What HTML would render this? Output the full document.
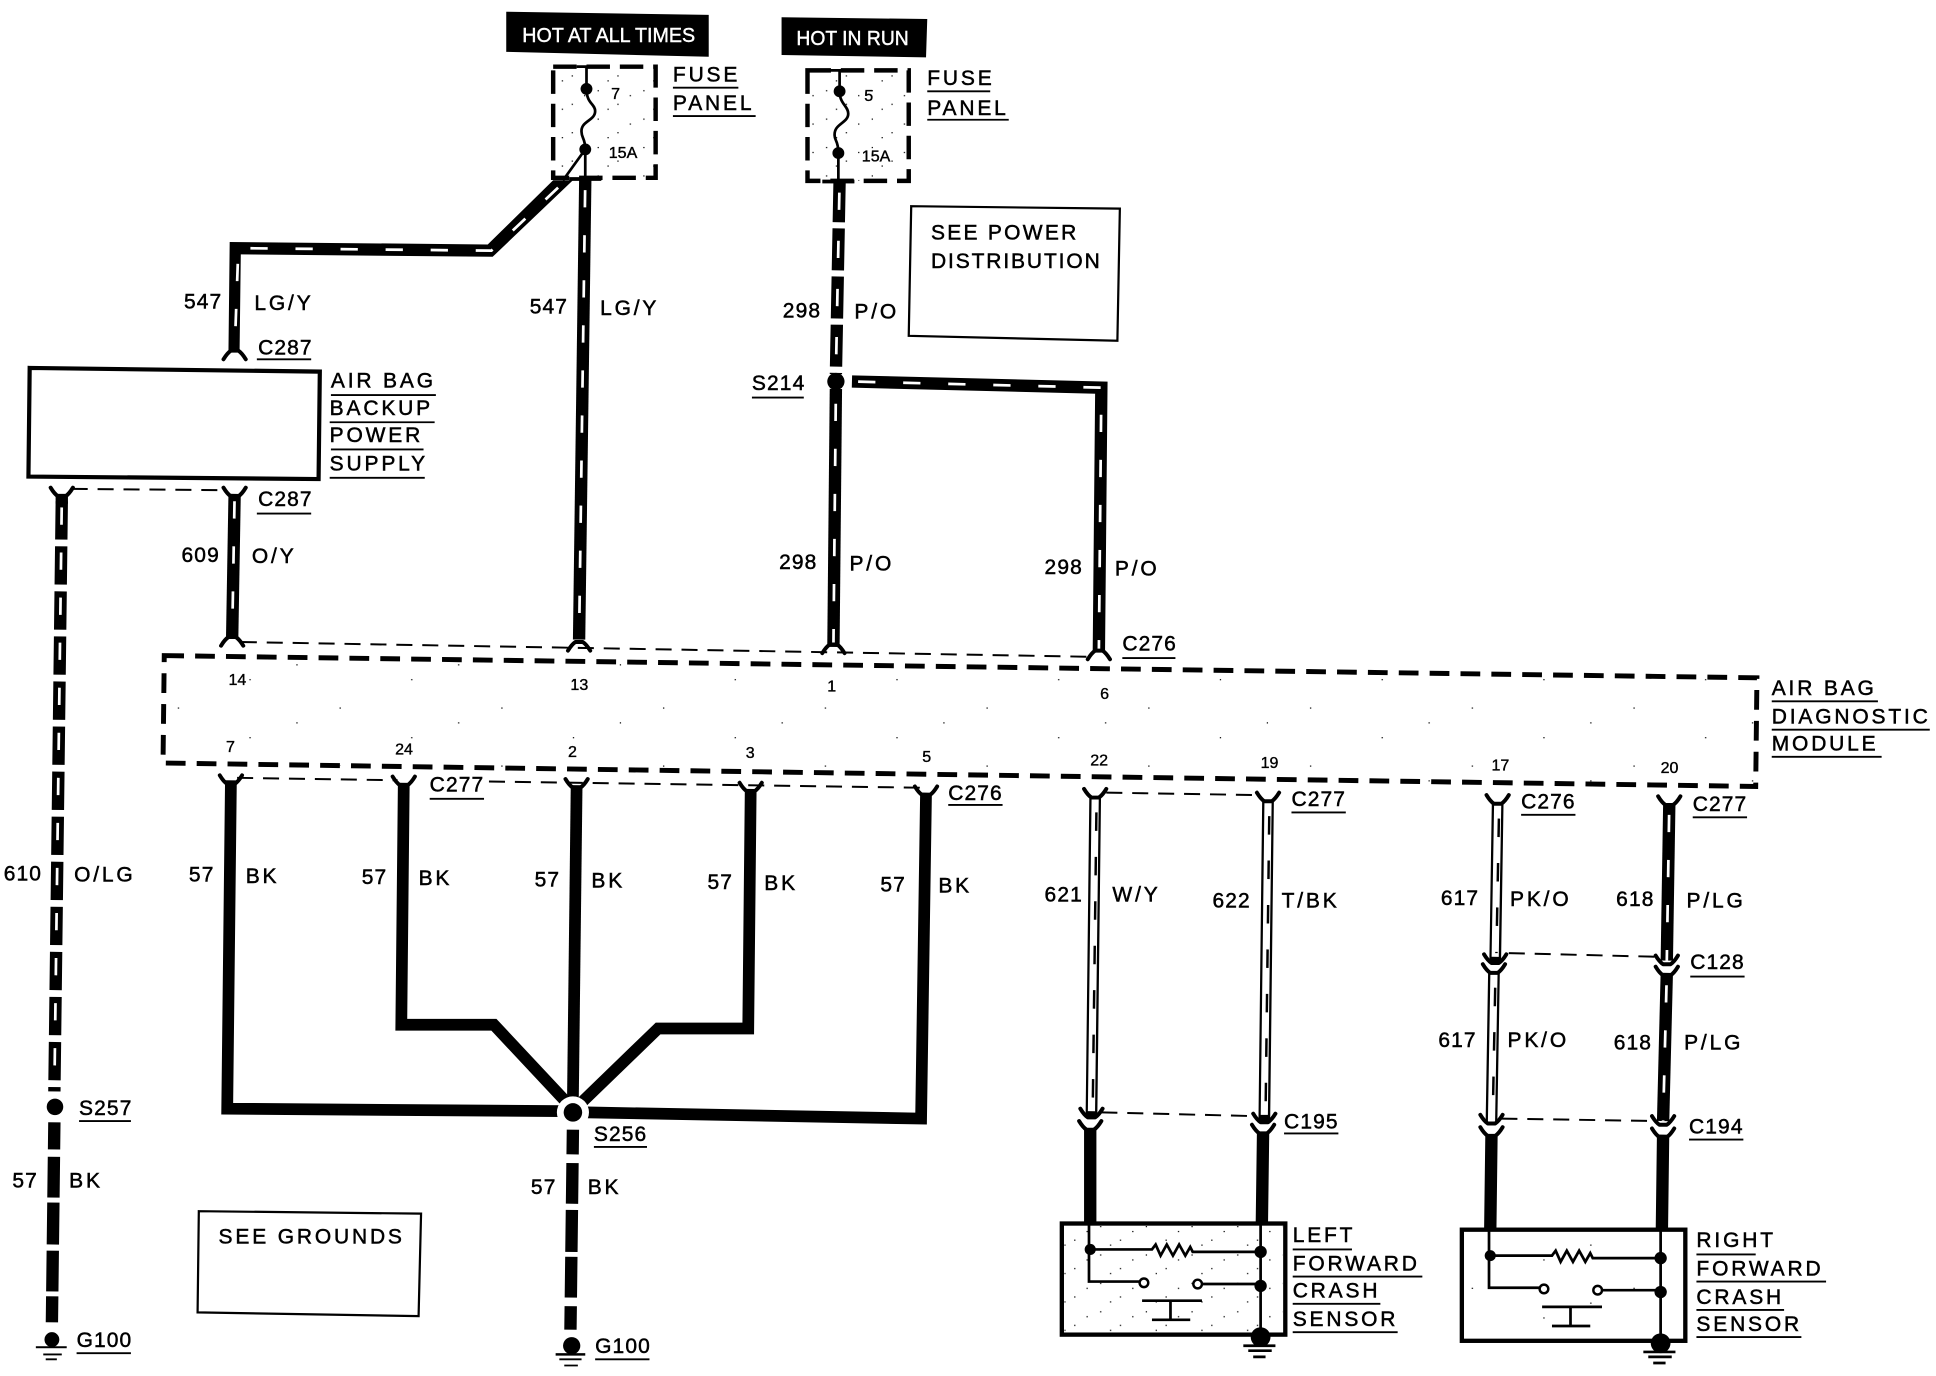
<!DOCTYPE html>
<html><head><meta charset="utf-8"><style>
html,body{margin:0;padding:0;background:#fff}
svg{display:block}
text{font-family:"Liberation Sans",sans-serif;font-size:17px;letter-spacing:.9px;fill:#000;stroke:#000;stroke-width:.4}
.l{letter-spacing:2.3px}
.s{font-size:13px;letter-spacing:0;stroke-width:.3}
.h{font-size:16.8px;fill:#fff;stroke:#fff;stroke-width:.35;letter-spacing:0}
.w{fill:none;stroke:#000;stroke-width:10;stroke-linejoin:miter}
.t{fill:none;stroke:#fff;stroke-width:2.2;stroke-dasharray:14 22.5}
.b{fill:none;stroke:#000;stroke-width:9.5;stroke-linejoin:miter}
.d{fill:none;stroke:#000;stroke-width:1.6;stroke-dasharray:13 8}
.u{stroke:#000;stroke-width:1.5;fill:none}
.f{fill:none;stroke:#000;stroke-width:3.2;stroke-linecap:round;stroke-linejoin:round}
.o{fill:none;stroke:#000;stroke-width:9.5}
.i{fill:none;stroke:#fff;stroke-width:5.8}
.z{fill:none;stroke:#000;stroke-width:2;stroke-dasharray:15 21}
.n{fill:none;stroke:#000;stroke-width:2.2}
</style></head><body>
<svg xmlns="http://www.w3.org/2000/svg" width="1936" height="1376" viewBox="0 0 1568 1114.5">
<defs>
<path id="up" class="f" d="M-9,-7 Q-6,-2 -3,0 H3 Q6,-2 9,-7"/>
<path id="dn" class="f" d="M-9,7 Q-6,2 -3,0 H3 Q6,2 9,7"/>
<pattern id="sd" width="37" height="23" patternUnits="userSpaceOnUse">
<rect x="3" y="4" width="1" height="1"/><rect x="19" y="15" width="1" height="1"/><rect x="29" y="8" width="1" height="1"/><rect x="11" y="19" width="1" height="1"/>
</pattern>
<pattern id="sp" width="131" height="47" patternUnits="userSpaceOnUse">
<rect x="13" y="9" width="1" height="1"/><rect x="71" y="33" width="1" height="1"/><rect x="109" y="21" width="1" height="1"/>
</pattern>
<g id="sensor">
<rect x="860" y="991" width="181" height="90" fill="none" stroke="#000" stroke-width="3.5"/>
<path class="n" d="M882,991 V1038 H923 M974,1040 H1021 M1021,991 V1083 M882,1012 H933 L936,1008 L940,1017 L945,1008 L950,1017 L955,1008 L960,1017 L964,1010 L966,1014 H1021"/>
<circle cx="926.5" cy="1039" r="3.5" fill="#fff" stroke="#000" stroke-width="2"/>
<circle cx="970" cy="1040" r="3.5" fill="#fff" stroke="#000" stroke-width="2"/>
<circle cx="883" cy="1012" r="4.5"/><circle cx="1021" cy="1014" r="5"/><circle cx="1021" cy="1041.5" r="5"/><circle cx="1021" cy="1083" r="8"/>
<path class="n" d="M925,1053.5 H973.5 M948,1053.5 V1069 M933,1069 H964"/>
<path d="M1007,1090 H1033 M1011,1094 H1030 M1015,1099 H1025" stroke="#000" stroke-width="2.2"/>
</g>
</defs>

<rect x="0" y="0" width="1568" height="1114.5" fill="#fff"/>
<path d="M410,9.5 L574,12 L574,46 L410,42 Z M633,14 L751,15.4 L750,46.5 L633,44.5 Z"/>
<text class="h" x="423" y="34" textLength="140" lengthAdjust="spacingAndGlyphs">HOT AT ALL TIMES</text>
<text class="h" x="645" y="36.5" textLength="91" lengthAdjust="spacingAndGlyphs">HOT IN RUN</text>

<!-- fuses -->
<path d="M448,54 H531 V144 H448 Z M654,57 H736 V146.5 H654 Z" fill="url(#sd)" stroke="#000" stroke-width="3.6" stroke-dasharray="19 8"/>
<path class="n" d="M475,54 V72 C475,84 482,84 482,90 C482,98 470,98 471,107 C471,112 474,112 474,121 V145 M467,54 H486 M680,57 V74 C680,84 687,86 687,92 C687,100 675,100 676,110 C676,114 679,114 679,124 V147 M670,57 H692 M474,121 L456,146"/>
<circle cx="475" cy="72" r="4.8"/><circle cx="474" cy="121" r="4.8"/><circle cx="680" cy="74" r="4.8"/><circle cx="679" cy="124" r="4.8"/>
<text class="s" x="495" y="80">7</text><text class="s" x="493" y="128">15A</text>
<text class="s" x="700" y="82">5</text><text class="s" x="698" y="131">15A</text>
<path d="M461,145 H487 M666,147 H692" stroke="#000" stroke-width="3"/>

<!-- boxes -->
<path d="M738,167 L907,169 L905,276 L736,272 Z" fill="none" stroke="#000" stroke-width="1.8"/>
<path d="M161,981 L341,983 L339,1066 L160,1063 Z" fill="none" stroke="#000" stroke-width="1.8"/>
<path d="M24,298 L259,301 L258,388 L23,386 Z" fill="#fff" stroke="#000" stroke-width="3.4"/>
<path d="M133,531 L1423,549 L1422,637 L132,618 Z" fill="url(#sp)" stroke="#000" stroke-width="4" stroke-dasharray="16 9"/>

<!-- thick striped wires -->
<path d="M448,146 H464 L399,208 L195,206 L194,285 L185,285 L186,196 L395,198 Z"/>
<path class="t" d="M452,152 L398,203 L193,201 L190,285"/>
<path class="w" d="M474,146 L469,518"/><path class="t" style="stroke-dashoffset:-8" d="M474,146 L469,518"/>
<path class="w" d="M680,146 L677,303" style="stroke-dasharray:34 5"/><path class="t" style="stroke-dasharray:14 25;stroke-dashoffset:-10" d="M680,146 L677,303"/>
<path class="w" d="M677,315 L675,524"/><path class="t" style="stroke-dashoffset:-12" d="M677,315 L675,524"/>
<path class="w" d="M690,309 L892,314 L890,527"/><path class="t" style="stroke-dashoffset:-5" d="M690,309 L892,314 L890,527"/>
<path class="w" d="M190,400 L188,517"/><path class="t" style="stroke-dashoffset:-6" d="M190,400 L188,517"/>
<path class="w" style="stroke-dasharray:31 5.5" d="M50,406 L44,884"/><path class="w" d="M50,400 V408"/><path class="t" style="stroke-dashoffset:-5" d="M50,406 L44,884"/>
<path class="w" style="stroke-dasharray:22 6 33 4 34 5 33 4 21" d="M44,909 L42,1071"/>
<path class="w" style="stroke-dasharray:20 7 33 5 34 4 33 7 19" d="M464,915 L462,1077"/>
<path class="w" d="M1352,652 L1350,778"/><path class="t" style="stroke-dashoffset:-8" d="M1352,652 L1350,778"/>
<path class="w" d="M1350,788 L1347,908"/><path class="t" style="stroke-dashoffset:-10" d="M1350,788 L1347,908"/>

<!-- BK wires -->
<path class="b" d="M187,632 L184,898 L455,900"/>
<path class="b" d="M327,634 L325,830 L400,830 L458,892"/>
<path class="b" d="M467,636 L464,890"/>
<path class="b" d="M608,639 L606,833 L533,833 L472,892"/>
<path class="b" d="M750,642 L746,906 L475,901"/>
<circle cx="464" cy="901" r="13" fill="#fff"/><circle cx="464" cy="901" r="7.5"/>
<circle cx="677" cy="309" r="7"/><circle cx="44.5" cy="896.5" r="6.7"/>

<!-- outlined wires -->
<path class="o" d="M887,646 L884,905 M1027,649 L1024,908 M1213,651 L1211,780 M1210,788 L1208,909"/>
<path class="i" d="M887,647 L884,900 M1027,650 L1024,903 M1213,652 L1211,775 M1210,789 L1208,909"/>
<path class="z" d="M888,658 L885,900 M1028,661 L1025,903 M1214,663 L1212,772 M1211,800 L1209,906"/>

<!-- lower wires -->
<path class="w" d="M883,914 L883,992 M1023,917 L1022,992 M1208,919 L1207,997 M1347,919 L1346,997"/>

<!-- sensors -->
<rect x="862" y="993" width="177" height="86" fill="url(#sd)"/>
<rect x="1186" y="998" width="177" height="86" fill="url(#sp)"/>
<use href="#sensor"/>
<use href="#sensor" transform="translate(324,5)"/>

<!-- grounds -->
<circle cx="42" cy="1085" r="6"/><rect x="29" y="1090.4" width="25" height="1.6"/>
<path d="M35,1097 H50 M37,1101 H46" stroke="#000" stroke-width="1.5"/>
<circle cx="463" cy="1090" r="7"/><rect x="450" y="1096" width="24" height="2"/>
<path d="M453,1101 H471 M457,1106 H468" stroke="#000" stroke-width="1.5"/>

<!-- dashed connector lines -->
<path class="d" d="M58,396 L183,397 M195,520 L885,532 M192,630 L322,632 M396,633 L745,638 M896,642 L1020,644 M1222,772 L1344,775 M1216,906 L1342,908 M892,901 L1016,904"/>

<!-- connector forks -->
<use href="#dn" x="190" y="284"/><use href="#up" x="50" y="402"/><use href="#up" x="190" y="402"/>
<use href="#dn" x="188" y="516"/><use href="#dn" x="469" y="520"/><use href="#dn" x="675" y="522"/><use href="#dn" x="890" y="527"/>
<use href="#up" x="187" y="635"/><use href="#up" x="327" y="636"/><use href="#up" x="467" y="638"/><use href="#up" x="608" y="641"/><use href="#up" x="750" y="644"/>
<use href="#up" x="887" y="646"/><use href="#up" x="1027" y="649"/><use href="#up" x="1213" y="651"/><use href="#up" x="1352" y="652"/>
<use href="#up" x="1211" y="780"/><use href="#up" x="1350" y="781"/><use href="#up" x="1210" y="788"/><use href="#up" x="1350" y="790"/>
<use href="#up" x="884" y="905"/><use href="#up" x="1024" y="909"/><use href="#up" x="1208" y="910"/><use href="#up" x="1347" y="911"/>
<use href="#up" x="883" y="915"/><use href="#up" x="1023" y="918"/><use href="#up" x="1208" y="920"/><use href="#up" x="1347" y="921"/>

<!-- underlines -->
<path class="u" d="M545,71 H598 M545,94 H612 M751,74 H802 M751,97 H817 M609,322 H651 M208,291 H252 M268,320 H353 M267,342 H352 M268,364 H343 M267,387 H344 M208,416 H252 M909,533 H952 M1435,568 H1521 M1435,591 H1563 M1435,613 H1524 M348,647 H392 M768,652 H812 M1046,658 H1090 M1232,660 H1276 M1371,662 H1415 M1369,791 H1413 M64,908 H106 M481,929 H524 M1040,918 H1084 M1368,923 H1412 M62,1096 H106 M482,1101 H526 M1047,1012 H1095 M1047,1034 H1152 M1047,1056 H1118 M1047,1079 H1132 M1374,1016 H1422 M1374,1038 H1479 M1374,1061 H1445 M1374,1083 H1459"/>

<!-- labels -->
<text class="l" x="545" y="66">FUSE</text><text class="l" x="545" y="89">PANEL</text>
<text class="l" x="751" y="69">FUSE</text><text class="l" x="751" y="93">PANEL</text>
<text class="l" x="754" y="194" textLength="120">SEE POWER</text><text class="l" x="754" y="217" textLength="139">DISTRIBUTION</text>
<text x="609" y="316">S214</text>
<text x="149" y="250">547</text><text class="l" x="206" y="251">LG/Y</text>
<text x="209" y="287">C287</text>
<text x="429" y="254">547</text><text class="l" x="486" y="255">LG/Y</text>
<text x="634" y="257">298</text><text class="l" x="692" y="258">P/O</text>
<text class="l" x="268" y="314" textLength="85">AIR BAG</text><text class="l" x="267" y="336">BACKUP</text><text class="l" x="267" y="358">POWER</text><text class="l" x="267" y="381">SUPPLY</text>
<text x="209" y="410">C287</text>
<text x="147" y="455">609</text><text class="l" x="204" y="456">O/Y</text>
<text x="631" y="461">298</text><text class="l" x="688" y="462">P/O</text>
<text x="846" y="465">298</text><text class="l" x="903" y="466">P/O</text>
<text x="909" y="527">C276</text>
<text class="s" x="185" y="555">14</text><text class="s" x="462" y="559">13</text><text class="s" x="670" y="560">1</text><text class="s" x="891" y="566">6</text>
<text class="s" x="183" y="609">7</text><text class="s" x="320" y="611">24</text><text class="s" x="460" y="613">2</text><text class="s" x="604" y="614">3</text><text class="s" x="747" y="617">5</text><text class="s" x="883" y="620">22</text><text class="s" x="1021" y="622">19</text><text class="s" x="1208" y="624">17</text><text class="s" x="1345" y="626">20</text>
<text class="l" x="1435" y="563">AIR BAG</text><text class="l" x="1435" y="586">DIAGNOSTIC</text><text class="l" x="1435" y="608">MODULE</text>
<text x="348" y="641">C277</text><text x="768" y="648">C276</text><text x="1046" y="653">C277</text><text x="1232" y="655">C276</text><text x="1371" y="657">C277</text>
<text x="3" y="713">610</text><text class="l" x="60" y="714">O/LG</text>
<text x="153" y="714">57</text><text class="l" x="199" y="715">BK</text>
<text x="293" y="716">57</text><text class="l" x="339" y="717">BK</text>
<text x="433" y="718">57</text><text class="l" x="479" y="719">BK</text>
<text x="573" y="720">57</text><text class="l" x="619" y="721">BK</text>
<text x="713" y="722">57</text><text class="l" x="760" y="723">BK</text>
<text x="846" y="730">621</text><text class="l" x="901" y="730">W/Y</text>
<text x="982" y="735">622</text><text class="l" x="1038" y="735">T/BK</text>
<text x="1167" y="733">617</text><text class="l" x="1223" y="734">PK/O</text>
<text x="1309" y="734">618</text><text class="l" x="1366" y="735">P/LG</text>
<text x="1369" y="785">C128</text>
<text x="1165" y="848">617</text><text class="l" x="1221" y="848">PK/O</text>
<text x="1307" y="850">618</text><text class="l" x="1364" y="850">P/LG</text>
<text x="64" y="903">S257</text>
<text x="10" y="962">57</text><text class="l" x="56" y="962">BK</text>
<text x="481" y="924">S256</text>
<text x="430" y="967">57</text><text class="l" x="476" y="967">BK</text>
<text x="1040" y="914">C195</text><text x="1368" y="918">C194</text>
<text class="l" x="177" y="1007">SEE GROUNDS</text>
<text x="62" y="1091">G100</text><text x="482" y="1096">G100</text>
<text class="l" x="1047" y="1006">LEFT</text><text class="l" x="1047" y="1029">FORWARD</text><text class="l" x="1047" y="1051">CRASH</text><text class="l" x="1047" y="1074">SENSOR</text>
<text class="l" x="1374" y="1010">RIGHT</text><text class="l" x="1374" y="1033">FORWARD</text><text class="l" x="1374" y="1056">CRASH</text><text class="l" x="1374" y="1078">SENSOR</text>
</svg>
</body></html>
